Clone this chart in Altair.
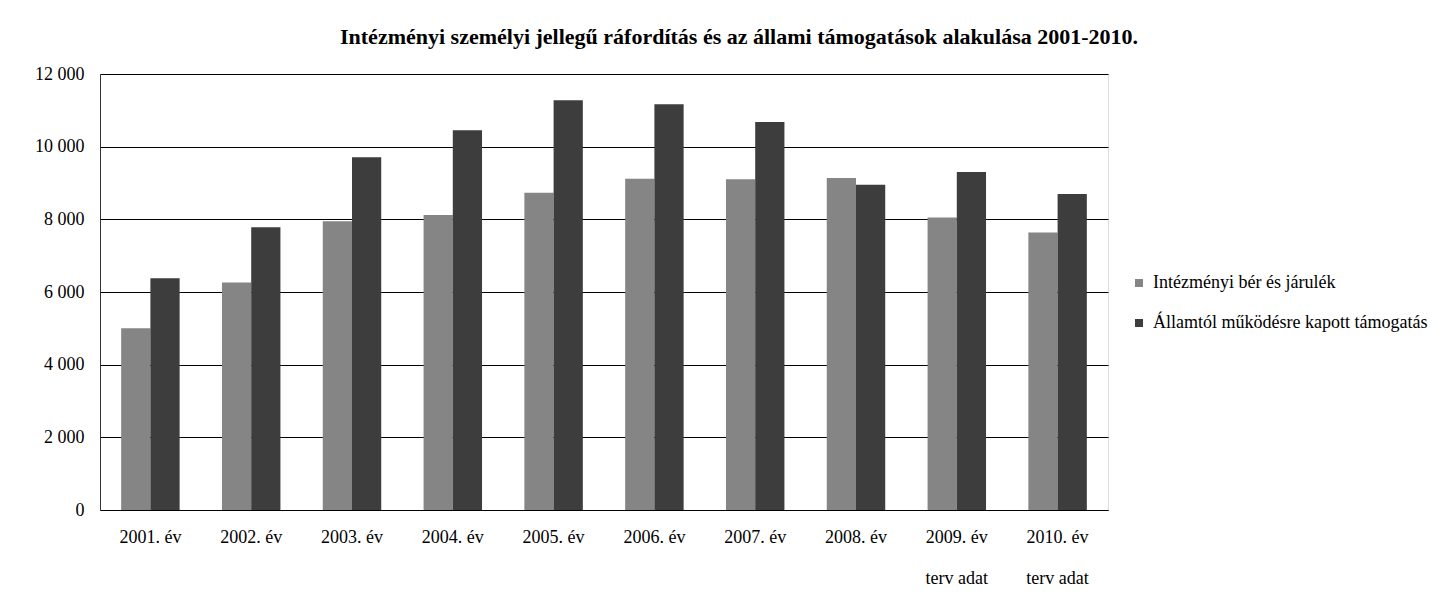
import altair as alt
import pandas as pd

categories = ["2001. év", "2002. év", "2003. év", "2004. év", "2005. év",
              "2006. év", "2007. év", "2008. év", "2009. év|terv adat", "2010. év|terv adat"]
series_names = ["Intézményi bér és járulék", "Államtól működésre kapott támogatás"]
ber = [5000, 6260, 7950, 8120, 8730, 9120, 9100, 9140, 8050, 7640]
tamogatas = [6380, 7780, 9710, 10450, 11280, 11170, 10680, 8950, 9300, 8700]
colors = ["#858585", "#3d3d3d"]

rows = []
for c, a, b in zip(categories, ber, tamogatas):
    rows.append({"ev": c, "sorozat": series_names[0], "ertek": a})
    rows.append({"ev": c, "sorozat": series_names[1], "ertek": b})
df = pd.DataFrame(rows)

FONT = "Liberation Serif"

chart = alt.Chart(df).mark_bar().encode(
    x=alt.X("ev:N", sort=categories,
            scale=alt.Scale(paddingInner=0.42, paddingOuter=0.21),
            axis=alt.Axis(title=None, labelAngle=0, labelExpr="split(datum.label, '|')",
                          labelLineHeight=41, labelPadding=18, ticks=False,
                          domainColor="#000000", labelFont=FONT, labelFontSize=18,
                          labelColor="#000000", labelBaseline="top")),
    xOffset=alt.XOffset("sorozat:N", sort=series_names),
    y=alt.Y("ertek:Q", scale=alt.Scale(domain=[0, 12000]),
            axis=alt.Axis(title=None, values=[0, 2000, 4000, 6000, 8000, 10000, 12000],
                          labelExpr="replace(format(datum.value, ','), ',', ' ')",
                          ticks=False, labelPadding=16, domainColor="#333333",
                          gridColor="#000000", gridWidth=1,
                          labelFont=FONT, labelFontSize=18, labelColor="#000000")),
    color=alt.Color("sorozat:N",
                    scale=alt.Scale(domain=series_names, range=colors),
                    legend=alt.Legend(title=None, orient="none", legendX=1030, legendY=200,
                                      symbolType="square", symbolSize=64,
                                      symbolStrokeWidth=0, rowPadding=22, labelLimit=400,
                                      labelFont=FONT, labelFontSize=18, labelColor="#000000",
                                      labelOffset=5)),
).properties(
    width=1008, height=436,
    title=alt.TitleParams("Intézményi személyi jellegű ráfordítás és az állami támogatások alakulása 2001-2010.",
                          font=FONT, fontSize=22, fontWeight="bold", color="#000000",
                          anchor="middle", frame="group", dx=135, offset=16),
    autosize=alt.AutoSizeParams(type="none"),
    padding={"left": 92, "top": 66, "right": 320, "bottom": 80},
).configure_view(stroke=None).configure(background="white")

chart.save("out.html", embed_options={"renderer": "svg", "actions": False})
